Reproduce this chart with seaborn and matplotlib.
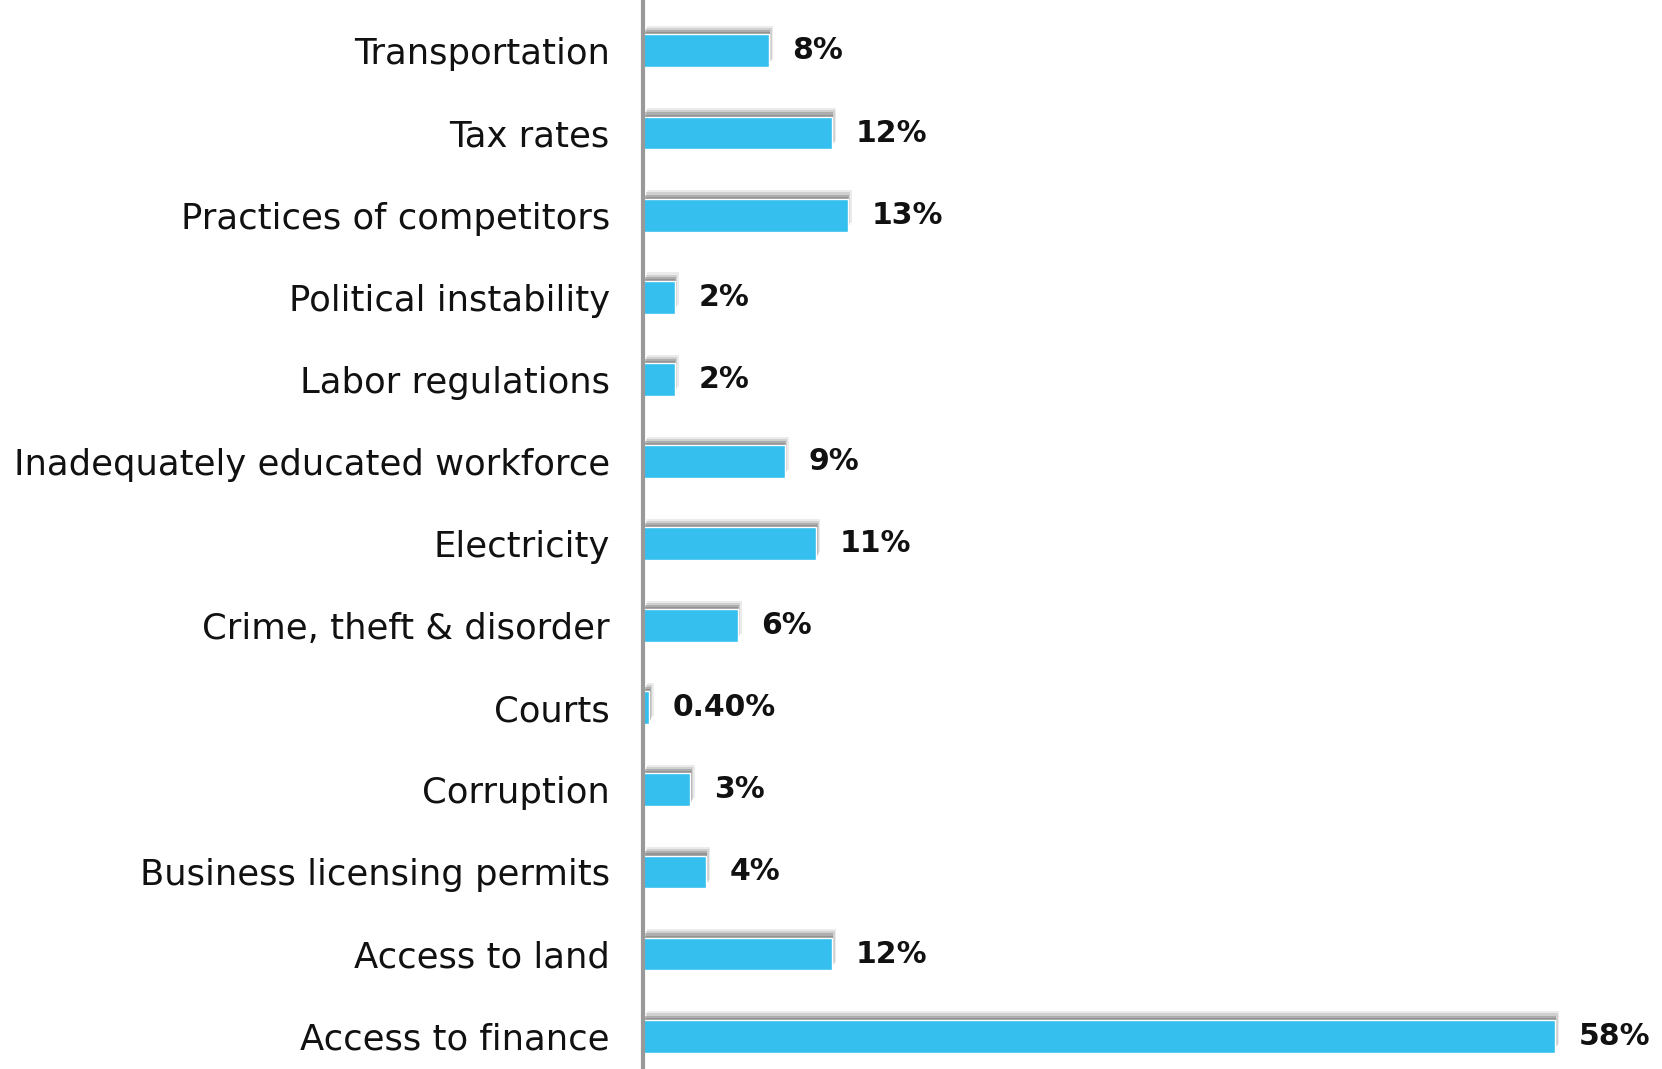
import pandas as pd
import matplotlib.pyplot as plt
import matplotlib.patheffects as pe
import seaborn as sns

# Obstacles to doing business (share of firms)
categories = [
    "Transportation", "Tax rates", "Practices of competitors",
    "Political instability", "Labor regulations",
    "Inadequately educated workforce", "Electricity",
    "Crime, theft & disorder", "Courts", "Corruption",
    "Business licensing permits", "Access to land", "Access to finance",
]
values = [8, 12, 13, 2, 2, 9, 11, 6, 0.4, 3, 4, 12, 58]
value_labels = ["8%", "12%", "13%", "2%", "2%", "9%", "11%", "6%",
                "0.40%", "3%", "4%", "12%", "58%"]

df = pd.DataFrame({"Category": categories, "Share": values})

sns.set_style("white")
plt.rcParams["font.family"] = ["DejaVu Sans"]

fig = plt.figure(figsize=(16.62, 10.69), dpi=100)
ax = fig.add_axes([0.387, 0.0, 0.613, 1.0])

sns.barplot(data=df, x="Share", y="Category", orient="h", color="#35BFEE",
            saturation=1, width=0.4, ax=ax)

# soft grey drop shadow behind the bars (a few stacked layers fake the blur)
for patch in ax.patches:
    patch.set_path_effects([
        pe.SimplePatchShadow(offset=(3, 6), shadow_rgbFace="#c8c8c8", alpha=0.35),
        pe.SimplePatchShadow(offset=(2, 4.5), shadow_rgbFace="#a8a8a8", alpha=0.4),
        pe.SimplePatchShadow(offset=(1, 3), shadow_rgbFace="#8c8c8c", alpha=0.5),
        pe.SimplePatchShadow(offset=(0.5, 1.5), shadow_rgbFace="#7a7a7a", alpha=0.5),
        pe.Normal(),
    ])

ax.bar_label(ax.containers[0], labels=value_labels, padding=17,
             fontsize=21.5, fontweight="bold", color="#111111")

ax.set_xlim(0, 64.8)
ax.set_ylim(12.40, -0.62)
ax.set_xlabel("")
ax.set_ylabel("")
ax.set_xticks([])
ax.tick_params(axis="y", length=0, pad=24, labelsize=25.5, labelcolor="#111111")

for side in ["top", "right", "bottom"]:
    ax.spines[side].set_visible(False)
ax.spines["left"].set_color("#999999")
ax.spines["left"].set_linewidth(3)

fig.savefig("out.png", dpi=100)
